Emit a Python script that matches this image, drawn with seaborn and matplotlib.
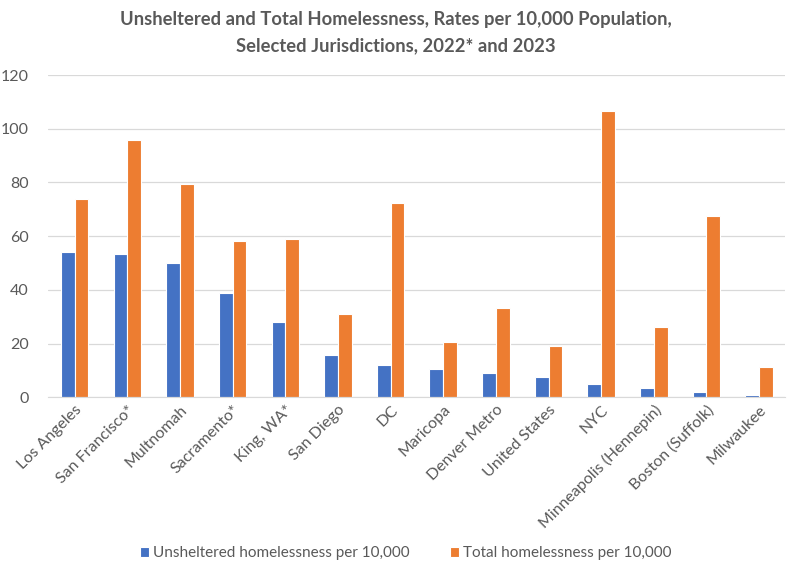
import matplotlib
matplotlib.use("Agg")
import matplotlib.pyplot as plt
import seaborn as sns
import pandas as pd

categories = ["Los Angeles", "San Francisco*", "Multnomah", "Sacramento*", "King, WA*",
              "San Diego", "DC", "Maricopa", "Denver Metro", "United States", "NYC",
              "Minneapolis (Hennepin)", "Boston (Suffolk)", "Milwaukee"]
unsheltered = [54.0, 53.4, 49.9, 39.0, 28.0, 15.6, 11.9, 10.5, 9.2, 7.4, 4.8, 3.6, 1.9, 1.0]
total = [73.8, 95.9, 79.5, 58.3, 58.8, 31.1, 72.4, 20.7, 33.4, 19.2, 106.6, 26.2, 67.6, 11.3]
series_names = ["Unsheltered homelessness per 10,000", "Total homelessness per 10,000"]
yticks = [0, 20, 40, 60, 80, 100, 120]

sns.set_style("white")
plt.rcParams["font.family"] = ["Lato", "DejaVu Sans"]

df = pd.DataFrame({
    "Jurisdiction": categories * 2,
    "Rate": unsheltered + total,
    "Series": [series_names[0]] * len(categories) + [series_names[1]] * len(categories),
})

fig = plt.figure(figsize=(7.91, 5.65), dpi=100)
ax = fig.add_axes([0.061, 0.297, 0.932, 0.570])

sns.barplot(data=df, x="Jurisdiction", y="Rate", hue="Series",
            palette=["#4472C4", "#ED7D31"], saturation=1, width=0.52, edgecolor="white",
            linewidth=0.8, ax=ax, legend=True)

ax.set_ylim(0, 120)
ax.set_yticks(yticks)
ax.set_xlim(-0.5, len(categories) - 0.5)
ax.grid(axis="y", color="#D9D9D9", linewidth=0.9)
ax.set_axisbelow(True)
for s in ["top", "right", "left"]:
    ax.spines[s].set_visible(False)
ax.spines["bottom"].set_color("#D9D9D9")
ax.set_xlabel("")
ax.set_ylabel("")
ax.tick_params(axis="both", length=0, colors="#595959", labelsize=11.5)
ax.tick_params(axis="y", pad=14)
ax.tick_params(axis="x", pad=4)
plt.setp(ax.get_xticklabels(), rotation=45, ha="right", rotation_mode="anchor")

h, l = ax.get_legend_handles_labels()
ax.legend_.remove()
fig.legend(h, l, loc="center", bbox_to_anchor=(0.513, 0.021), ncol=2, frameon=False,
           fontsize=11, handlelength=0.6, handleheight=0.6, handletextpad=0.3,
           columnspacing=2.6, labelcolor="#595959")

fig.text(0.5, 0.966, "Unsheltered and Total Homelessness, Rates per 10,000 Population,",
         ha="center", va="center", fontsize=13.2, fontweight="bold", color="#595959")
fig.text(0.5, 0.919, "Selected Jurisdictions, 2022* and 2023",
         ha="center", va="center", fontsize=13.2, fontweight="bold", color="#595959")

fig.savefig("out.png", dpi=100)
